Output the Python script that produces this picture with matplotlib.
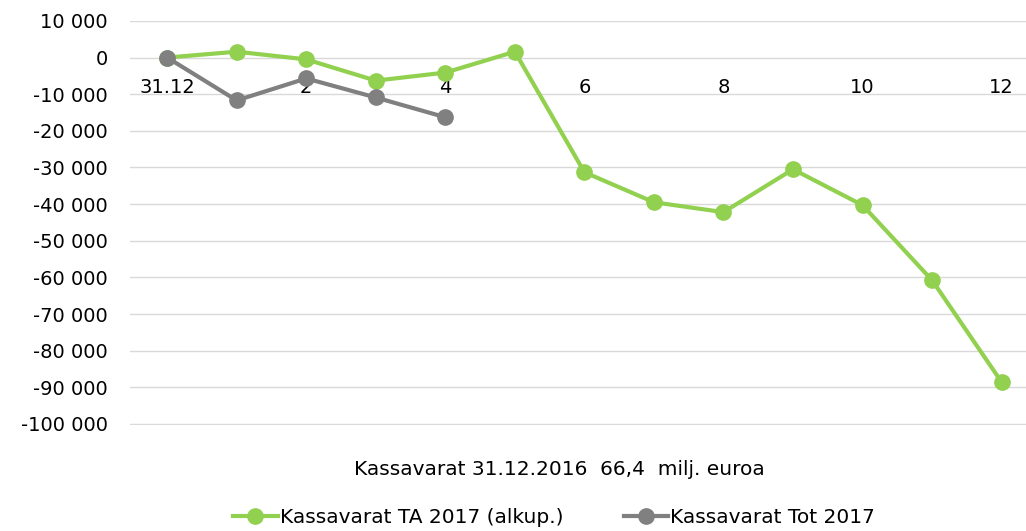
import matplotlib.pyplot as plt
from matplotlib.ticker import FuncFormatter

months = list(range(13))
month_labels = ['31.12', '', '2', '', '4', '', '6', '', '8', '', '10', '', '12']
ta_2017 = [0, 1600, -500, -6300, -4100, 1600, -31300, -39500, -42200, -30500, -40300, -60800, -88600]
tot_months = [0, 1, 2, 3, 4]
tot_2017 = [0, -11700, -5700, -10900, -16300]

green = '#92D050'
grey = '#808080'

plt.rcParams['font.family'] = ['DejaVu Sans']

fig = plt.figure(figsize=(10.26, 5.31), dpi=100)
ax = fig.add_axes([0.127, 0.1996, 0.873, 0.761])

ax.plot(months, ta_2017, color=green, lw=3, marker='o', ms=11, label='Kassavarat TA 2017 (alkup.)', zorder=3)
ax.plot(tot_months, tot_2017, color=grey, lw=3, marker='o', ms=11, label='Kassavarat Tot 2017', zorder=4)

ax.set_ylim(-100300, 10000)
ax.set_xlim(-0.53, 12.35)
ax.set_yticks(range(-100000, 10001, 10000))
ax.yaxis.set_major_formatter(FuncFormatter(lambda v, p: f'{int(v):,}'.replace(',', ' ')))
ax.grid(axis='y', color='#d9d9d9', lw=1)
ax.set_axisbelow(True)

ax.set_xticks(months)
ax.set_xticklabels(month_labels)
ax.spines['bottom'].set_position(('data', 0))
for s in ax.spines.values():
    s.set_visible(False)
ax.tick_params(axis='x', length=0, pad=15, labelsize=14)
ax.tick_params(axis='y', length=0, pad=16, labelsize=14)

fig.text(0.545, 0.115, 'Kassavarat 31.12.2016  66,4  milj. euroa', ha='center', va='center', fontsize=14.5)
fig.legend(loc='center', bbox_to_anchor=(0.54, 0.026), ncol=2, frameon=False, fontsize=14.5,
           handlelength=2.2, handletextpad=0.1, columnspacing=3)

fig.savefig('out.png', dpi=100)
